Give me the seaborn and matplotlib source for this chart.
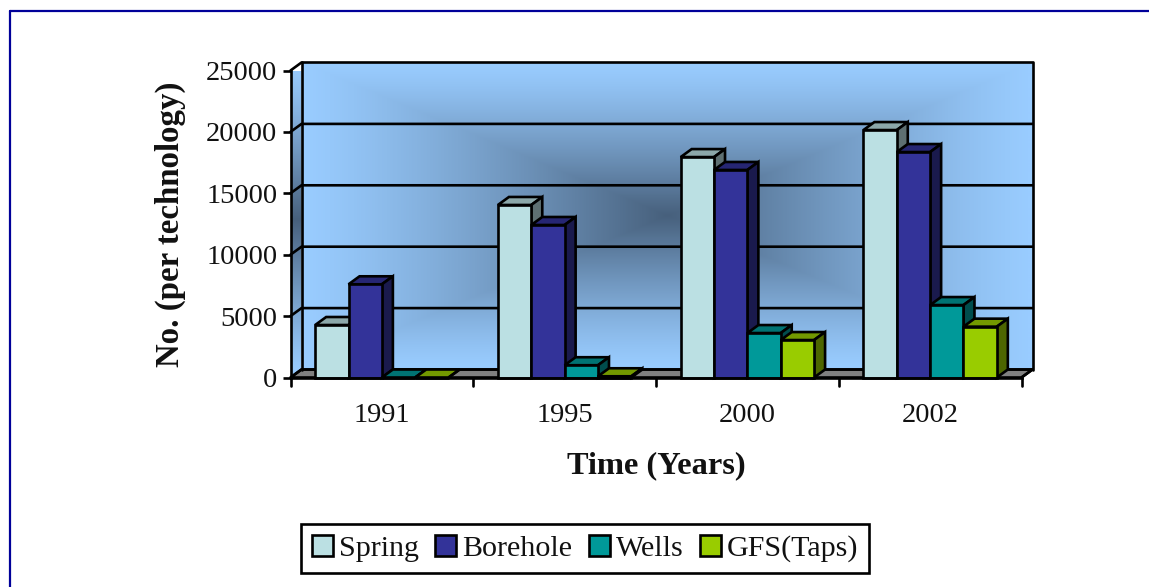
import numpy as np
import pandas as pd
import matplotlib
matplotlib.use("Agg")
import matplotlib.pyplot as plt
from matplotlib.colors import LinearSegmentedColormap, to_rgb
from matplotlib.lines import Line2D
from matplotlib.patches import Polygon
import seaborn as sns

years = ["1991", "1995", "2000", "2002"]
spring = [4275, 14050, 17950, 20150]
borehole = [7590, 12420, 16900, 18360]
wells = [0, 1000, 3620, 5900]
gfs = [0, 100, 3050, 4140]
series_names = ["Spring", "Borehole", "Wells", "GFS(Taps)"]
series_colors = ["#BBE0E3", "#333399", "#009999", "#99CC00"]
y_ticks = [0, 5000, 10000, 15000, 20000, 25000]

df = pd.DataFrame({
    "Time": years * 4,
    "Count": spring + borehole + wells + gfs,
    "Technology": [s for s in series_names for _ in years],
})

sns.set_theme(style="white")
plt.rcParams["font.family"] = ["Liberation Serif", "DejaVu Serif"]

W, H = 1149, 587
LW = 1.9
fig = plt.figure(figsize=(W / 100, H / 100), dpi=100, facecolor="white")
L, R, T, B = 290.5, 1021.5, 70.5, 377.5
ax = fig.add_axes([L / W, (H - B) / H, (R - L) / W, (B - T) / H])
ax.set_facecolor("none")

sns.barplot(data=df, x="Time", y="Count", hue="Technology", order=years,
            hue_order=series_names, palette=series_colors, saturation=1,
            width=0.73, gap=0, edgecolor="black", linewidth=LW, ax=ax)
ymax = y_ticks[-1]
ax.set_xlim(-0.5, 3.5)
ax.set_ylim(0, ymax)

# depth of the 3-D look, expressed in axis units
dx = 11 / ((R - L) / 4)
dy = 8 / ((B - T) / ymax)
x0, x1 = ax.get_xlim()

# back wall gradient
LIGHT = "#99CCFF"
DARK = "#47607C"
cmap = LinearSegmentedColormap.from_list("wall", [LIGHT, DARK])
u, v = np.meshgrid(np.linspace(-1, 1, 731), np.linspace(-1, 1, 308))
wall = (1 - np.maximum(np.abs(u), np.abs(v))) ** 1.25
ax.imshow(wall, cmap=cmap, vmin=0, vmax=1, aspect="auto", zorder=0, clip_on=False,
          extent=(x0 + dx, x1 + dx, dy, ymax + dy), interpolation="bilinear")

# left side wall gradient
side = (1 - np.abs(np.linspace(-1, 1, 308)).reshape(-1, 1)) ** 1.25
side_img = ax.imshow(side, cmap=cmap, vmin=0, vmax=1, aspect="auto", zorder=0.1,
                     extent=(x0, x0 + dx, 0, ymax + dy), interpolation="bilinear")
side_poly = Polygon([(x0, 0), (x0 + dx, dy), (x0 + dx, ymax + dy), (x0, ymax)],
                    closed=True, fc="none", ec="none", transform=ax.transData)
ax.add_patch(side_poly)
side_img.set_clip_path(side_poly)
side_img.set_clip_on(True)
ax.set_xlim(x0, x1)
ax.set_ylim(0, ymax)

# floor
ax.add_patch(Polygon([(x0, 0), (x0 + dx, dy), (x1 + dx, dy), (x1, 0)], closed=True,
                     fc="#808080", ec="black", lw=LW, zorder=1, clip_on=False))

# gridlines on both walls
for t in y_ticks:
    ax.plot([x0, x0 + dx, x1 + dx], [t, t + dy, t + dy], color="black", lw=LW,
            zorder=1.5, clip_on=False, solid_joinstyle="miter")
ax.plot([x0 + dx, x0 + dx], [dy, ymax + dy], color="black", lw=LW, zorder=1.5, clip_on=False)
ax.plot([x1 + dx, x1 + dx], [dy, ymax + dy], color="black", lw=LW, zorder=1.5, clip_on=False)
ax.plot([x1, x1 + dx], [0, dy], color="black", lw=LW, zorder=1.5, clip_on=False)


def shade(color, factor):
    return tuple(c * factor for c in to_rgb(color))


# bar tops and sides, painted left to right so nearer bars overlap
bars = []
for cont, col in zip(ax.containers, series_colors):
    for b in cont:
        bars.append((b, col))
bars.sort(key=lambda p: p[0].get_x())
for i, (b, col) in enumerate(bars):
    z = 2 + i
    bx, bw, bh = b.get_x(), b.get_width(), b.get_height()
    ax.add_patch(Polygon([(bx, bh), (bx + dx, bh + dy), (bx + bw + dx, bh + dy), (bx + bw, bh)],
                         closed=True, fc=shade(col, 0.75), ec="black", lw=LW, zorder=z,
                         clip_on=False, joinstyle="miter"))
    ax.add_patch(Polygon([(bx + bw, 0), (bx + bw + dx, dy), (bx + bw + dx, bh + dy), (bx + bw, bh)],
                         closed=True, fc=shade(col, 0.5), ec="black", lw=LW, zorder=z,
                         clip_on=False, joinstyle="miter"))
    b.set_zorder(z + 0.5)
    b.set_clip_on(False)

# axes decoration
for s in ("top", "right"):
    ax.spines[s].set_visible(False)
for s in ("left", "bottom"):
    ax.spines[s].set_visible(True)
    ax.spines[s].set_color("black")
    ax.spines[s].set_linewidth(LW)
    ax.spines[s].set_zorder(50)
ax.set_yticks(y_ticks)
ax.set_xticks(range(len(years)))
ax.set_xticklabels(years)
ax.tick_params(axis="y", which="major", left=True, length=6, width=LW, color="black",
               labelsize=20.5, labelcolor="#111111", pad=3.5)
ax.tick_params(axis="x", which="major", bottom=False, labelsize=20.5, labelcolor="#111111", pad=12)
# boundary ticks between the year groups
for k in np.arange(x0, x1 + 0.01, 1):
    ax.plot([k, k], [0, -8 / ((B - T) / ymax)], color="black", lw=LW, clip_on=False, zorder=50)
ax.set_ylim(0, ymax)

ax.set_xlabel("Time (Years)", fontsize=23.3, fontweight="bold", color="#111111")
ax.xaxis.set_label_coords(0.5, (B - 466) / (B - T), transform=ax.transAxes)
ax.xaxis.label.set_va("center")
ax.set_ylabel("No. (per technology)", fontsize=23.7, fontweight="bold", color="#111111")
ax.yaxis.set_label_coords((170 - L) / (R - L), 0.5, transform=ax.transAxes)
ax.yaxis.label.set_va("center")

# legend
handles, labels = ax.get_legend_handles_labels()
if ax.get_legend() is not None:
    ax.get_legend().remove()
fig.legend(handles, labels, loc="center", bbox_to_anchor=(585 / W, (H - 548.5) / H),
           bbox_transform=fig.transFigure, ncol=4, fontsize=21.6, frameon=True, fancybox=False,
           edgecolor="black", framealpha=1, handlelength=0.7, handleheight=0.7,
           handletextpad=0.2, columnspacing=0.55, borderpad=0.37, borderaxespad=0,
           labelcolor="#111111").get_frame().set_linewidth(LW)

# page frame
frame = "#000099"
fig.add_artist(Line2D([9.5 / W, 9.5 / W], [0, (H - 10.5) / H], color=frame, lw=1.6))
fig.add_artist(Line2D([9.5 / W, 1], [(H - 10.5) / H, (H - 10.5) / H], color=frame, lw=1.6))

fig.savefig("out.png", dpi=100, facecolor="white")
